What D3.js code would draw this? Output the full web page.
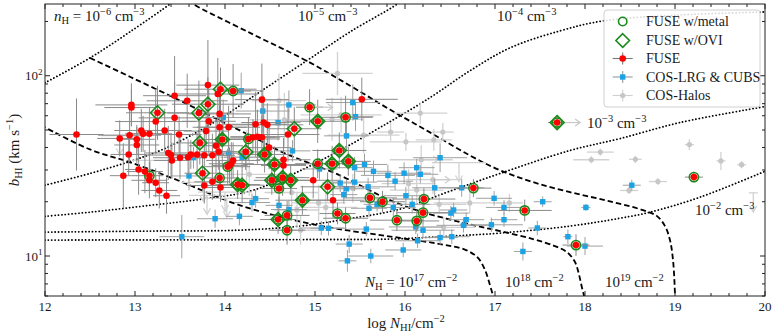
<!DOCTYPE html>
<html><head><meta charset="utf-8">
<script src="https://cdn.jsdelivr.net/npm/d3@7"></script>
<style>body{margin:0;background:#fff}svg{display:block}text{font-family:"Liberation Serif","DejaVu Serif",serif;white-space:pre}</style>
</head><body><svg id="c" width="777" height="336"></svg>
<script>
// ---------------- data ----------------
const fuseLogN = [12.35,12.83,12.93,12.87,12.94,12.96,12.96,13.02,13.02,13.04,
13.07,13.09,13.11,13.16,13.16,13.16,13.23,13.23,13.25,13.27,
13.33,13.35,13.37,13.40,13.41,13.44,13.44,13.49,13.50,13.58,
13.59,13.62,13.69,13.71,13.72,13.75,13.77,13.77,13.79,13.81,
13.81,13.82,13.86,13.86,13.90,13.93,13.92,13.94,13.94,13.94,
13.95,13.95,13.97,14.03,14.04,14.05,14.07,14.09,14.09,14.14,
14.23,14.26,14.31,14.36,14.41,14.34,14.41,14.43,14.47,14.44,
14.49,14.55,14.65,14.65,14.52,14.64,14.73,14.70,14.77,14.60,
14.19,14.86,14.59,14.69,14.69,14.94,14.98,15.03,15.03,15.14,
15.19,15.20,15.25,15.27,15.34,15.34,15.37,15.52,15.61,15.75,
15.91,16.13,16.20,16.21,16.76,17.33,17.69,17.90,19.21];
const fuseB = [47.2,44.9,36.6,27.9,46.8,68.9,66.6,44.4,41.3,30.2,
49.7,47.6,29.4,47.6,27.9,26.3,55.7,25.5,62.3,23.1,
49.7,21.6,37.3,36.3,33.9,58.4,77.5,47.2,35.1,72.6,
35.3,36.6,36.6,62.1,42.4,28.8,36.2,24.6,49.3,88.7,
69.5,55.9,25.8,36.2,40.9,37.9,79.2,51.8,27.1,61.4,
24.0,84.2,44.3,31.3,51.8,31.8,32.5,33.9,82.3,24.9,
37.8,44.6,45.6,45.9,45.6,53.8,73.7,55.0,53.4,36.6,
39.9,32.2,34.2,31.8,26.3,27.2,26.3,47.2,50.8,23.7,
24.7,20.4,15.95,16.8,13.9,66.9,26.3,32.5,55.9,24.2,
32.5,20.4,17.2,38.5,16.2,58.8,33.5,74.0,21.0,20.0,
15.8,15.65,17.4,20.7,23.8,17.9,55.0,11.5,27.4];
// 1 = with metal, 2 = with OVI, 3 = both
const fuseFlag = [0,0,0,0,0,0,0,0,0,0,
0,0,0,0,1,0,0,0,2,0,
0,0,0,0,0,0,0,0,0,0,
0,0,0,2,2,2,0,0,0,0,
2,0,0,0,0,0,0,0,1,0,
0,2,3,1,0,0,0,0,1,3,
2,1,0,0,0,0,0,0,0,3,
0,3,0,0,3,3,3,0,2,1,
3,3,3,1,1,1,0,1,3,2,
3,0,1,3,1,1,3,0,1,1,
1,1,1,1,1,1,3,1,1];
const fuseNerr = [0.30,0.25,0.20,0.15,0.35,0.40,0.30,0.20,0.25,0.15,
0.30,0.20,0.20,0.25,0.15,0.20,0.45,0.15,0.35,0.20,
0.30,0.15,0.25,0.30,0.20,0.40,0.35,0.25,0.30,0.45,
0.20,0.25,0.30,0.35,0.25,0.20,0.30,0.20,0.25,0.35,
0.40,0.30,0.20,0.25,0.30,0.20,0.45,0.30,0.20,0.35,
0.15,0.40,0.30,0.25,0.35,0.20,0.25,0.30,0.20,0.25,
0.30,0.35,0.25,0.30,0.20,0.35,0.30,0.25,0.40,0.30,
0.25,0.35,0.30,0.25,0.20,0.30,0.25,0.35,0.30,0.20,
0.25,0.30,0.20,0.25,0.20,0.15,0.30,0.25,0.35,0.30,
0.25,0.35,0.20,0.30,0.25,0.30,0.25,0.40,0.30,0.25,
0.30,0.25,0.30,0.35,0.20,0.30,0.10,0.15,0.10];
const fuseBerr = [0.20,0.10,0.12,0.18,0.15,0.12,0.10,0.08,0.10,0.14,
0.12,0.10,0.12,0.15,0.08,0.10,0.18,0.08,0.15,0.10,
0.12,0.10,0.15,0.12,0.10,0.20,0.22,0.10,0.12,0.15,
0.10,0.08,0.12,0.18,0.12,0.10,0.15,0.10,0.12,0.25,
0.15,0.18,0.10,0.12,0.15,0.10,0.20,0.12,0.10,0.15,
0.08,0.12,0.15,0.10,0.12,0.10,0.12,0.10,0.15,0.08,
0.10,0.12,0.10,0.15,0.12,0.18,0.20,0.15,0.12,0.10,
0.12,0.10,0.12,0.10,0.08,0.10,0.08,0.15,0.12,0.08,
0.10,0.08,0.08,0.08,0.08,0.10,0.10,0.08,0.12,0.08,
0.10,0.10,0.06,0.10,0.06,0.12,0.08,0.12,0.06,0.06,
0.06,0.06,0.06,0.06,0.05,0.06,0.04,0.06,0.03];
const fuseLowerLimitIdx = [85,106];

const cosLogN = [13.52,13.60,13.65,13.89,13.98,14.04,14.16,14.18,14.19,14.30,
14.34,14.42,14.59,14.71,14.75,14.60,14.71,15.05,15.07,15.15,
15.28,15.32,15.35,15.35,15.36,15.38,15.42,15.44,15.44,15.45,
15.55,15.57,15.59,15.60,15.62,15.65,15.69,15.81,15.87,15.89,
15.98,15.99,16.01,16.08,16.12,16.13,16.14,16.17,16.20,16.33,
16.39,16.39,16.51,16.54,16.52,16.63,16.65,16.68,16.96,16.99,
17.10,17.10,17.31,17.47,17.53,17.81,18.00,18.01,18.52];
const cosB = [12.8,27.8,35.1,16.1,58.6,37.1,16.6,82.6,35.3,19.8,
20.8,63.7,55.0,68.9,38.3,19.1,18.1,30.4,14.3,14.25,
25.4,21.9,23.6,46.4,9.4,11.65,71.0,30.9,25.7,59.3,
32.2,14.1,24.2,18.4,10.0,29.5,19.35,28.0,18.6,26.0,
10.8,28.8,21.6,19.35,14.5,30.9,12.15,28.4,13.9,23.9,
12.65,35.1,17.3,18.0,12.8,23.9,14.8,15.9,14.9,20.9,
18.6,15.9,10.6,14.3,20.0,12.8,11.35,18.6,24.7];
const cosNerr = [0.25,0.20,0.15,0.20,0.30,0.20,0.15,0.25,0.20,0.20,
0.15,0.30,0.25,0.30,0.20,0.15,0.20,0.20,0.25,0.20,
0.20,0.15,0.20,0.25,0.10,0.15,0.30,0.20,0.25,0.20,
0.25,0.20,0.30,0.20,0.25,0.20,0.15,0.30,0.25,0.20,
0.20,0.30,0.25,0.20,0.30,0.20,0.25,0.20,0.35,0.25,
0.20,0.30,0.20,0.15,0.20,0.25,0.30,0.20,0.35,0.20,
0.20,0.15,0.10,0.10,0.10,0.05,0.20,0.05,0.10];
const cosBerr = [0.12,0.08,0.06,0.05,0.10,0.08,0.05,0.10,0.06,0.05,
0.05,0.12,0.10,0.08,0.06,0.05,0.05,0.06,0.04,0.04,
0.05,0.05,0.05,0.08,0.06,0.05,0.10,0.06,0.05,0.08,
0.06,0.04,0.05,0.05,0.04,0.06,0.04,0.06,0.05,0.05,
0.04,0.06,0.05,0.05,0.04,0.05,0.04,0.05,0.04,0.05,
0.04,0.08,0.04,0.04,0.04,0.05,0.04,0.04,0.04,0.04,
0.04,0.04,0.05,0.04,0.03,0.04,0.05,0.02,0.03];

const halosLogN = [15.25,16.17,16.42,16.32,16.01,15.84,15.54,15.19,14.60,18.17,
18.07,18.56,19.16,19.51,19.74,18.81,18.49,17.16,16.72,16.38,
16.43,16.31,16.18,16.13,15.29,14.66,14.27,15.04,15.12,14.80,
14.24,16.04,14.74,15.42,14.84];
const halosB = [103,62.1,48.7,44.1,43.0,48.7,46.8,57.3,72.8,37.7,
34.2,34.4,41.5,33.7,32.1,25.9,23.1,19.7,19.7,19.35,
14.4,26.5,34.2,23.2,60.6,56.9,28.4,19.7,18.6,18.0,
35.3,25.2,22.5,23.7,13.9];
const halosNerr = [0.39,0.30,0.12,0.20,0.40,0.15,0.40,0.35,0.30,0.15,
0.20,0.07,0.05,0.05,0.05,0.10,0.10,0.15,0.40,0.30,
0.35,0.30,0.35,0.30,0.45,0.40,0.35,0.30,0.35,0.25,
0.30,0.30,0.30,0.30,0.25];
const halosBerr = [0.12,0.06,0.05,0.06,0.05,0.05,0.10,0.12,0.15,0.02,
0.02,0.02,0.03,0.05,0.02,0.02,0.02,0.05,0.06,0.05,
0.06,0.08,0.08,0.08,0.10,0.15,0.12,0.10,0.08,0.10,
0.15,0.08,0.10,0.08,0.08];
const halosLowerLimitIdx = [21,22];
// COS-Halos upper limits on b
const halosUlLogN = [19.87,13.76,14.00,13.80,14.02,13.17,16.60,12.83];
const halosUlB = [22.4,25.6,22.6,21.7,20.9,33.9,33.0,46.6];
const halosUlNerr = [0.05,0.25,0.30,0.20,0.25,0.20,0.30,0.20];

// model curves [log N_HI, b]
const nH_m6 = [[12.0,91.4],[12.5,125.6],[12.944,175.1],[13.389,250],[13.44,262]];
const nH_m5 = [[12,24.7],[12.5,28.7],[12.978,33.9],[13.333,39.5],[13.722,49.7],[14.0,60.1],[14.278,74.7],[14.907,121],[15.389,175],[15.911,250],[15.95,262]];
const nH_m4 = [[12,16.6],[12.5,17.5],[13.167,19.1],[13.722,20.6],[14.278,22.9],[14.722,28.0],[15.233,37.5],[15.722,51.6],[16.278,75.6],[16.722,106.6],[17.167,142.8],[17.722,177.3],[18.2,201.4],[19.056,217.4],[20,225.8]];
const nH_m3 = [[12,13.57],[13.167,13.75],[14.167,13.92],[14.833,14.65],[15.278,15.81],[15.944,18.2],[16.5,22.9],[17.056,28.7],[17.833,38.5],[18.389,44.8],[19.056,55.0],[20,67.4]];
const nH_m2 = [[12,12.26],[14.833,12.34],[15.833,12.42],[16.5,12.9],[17.056,13.4],[17.833,14.65],[18.389,16.2],[18.722,17.5],[19.278,21.2],[20,29.5]];
const NH_17 = [[11.95,53],[12,51.6],[12.5,39.0],[12.978,32.7],[13.5,26.0],[14.167,19.1],[15.022,14.84],[15.944,12.6],[16.389,11.65],[16.678,10.79],[16.811,9.75],[16.889,8.37],[16.944,6.9],[16.978,6.0],[16.99,5.5]];
const NH_18 = [[12.5,125.6],[12.944,98.7],[13.5,72.8],[13.944,56.4],[14.389,43.7],[14.644,37.5],[15.278,28.0],[15.833,20.4],[16.2,17.5],[16.756,14.84],[17.056,13.75],[17.422,12.42],[17.667,11.35],[17.8,10.5],[17.889,9.26],[17.933,7.9],[17.967,6.65],[17.989,6.0],[17.995,5.5]];
const NH_19 = [[13.589,262],[13.644,250],[14.278,172.8],[14.907,121],[15.389,88.1],[15.833,64.9],[16.278,48.5],[16.722,36.1],[17.056,29.9],[17.422,25.7],[17.833,22.6],[18.278,20.1],[18.644,17.96],[18.8,16.64],[18.889,14.65],[18.944,12.26],[18.978,9.5],[19.0,6.0],[19.0,5.5]];

const xTicks = [12,13,14,15,16,17,18,19,20];
const yMajor = [10,100];
const yMinor = [6,7,8,9,20,30,40,50,60,70,80,90,200];
const legendLabels = ["FUSE w/metal","FUSE w/OVI","FUSE","COS-LRG & CUBS","COS-Halos"];

// ---------------- drawing ----------------
const svg = d3.select('#c');
const L=45,R=765,T=4,B=296;
const x = d3.scaleLinear().domain([12,20]).range([L,R]);
const y = d3.scaleLog().domain([6,250]).range([B,T]);
svg.append('defs').append('clipPath').attr('id','clip').append('rect').attr('x',L).attr('y',T).attr('width',R-L).attr('height',B-T);
const plot = svg.append('g').attr('clip-path','url(#clip)');

function mtext(g,x0,y0,size,parts,opts){
  opts=opts||{};
  const t=g.append('text').attr('x',x0).attr('y',y0).attr('font-size',size).attr('fill','#1a1a1a');
  if(opts.anchor) t.attr('text-anchor',opts.anchor);
  if(opts.transform) t.attr('transform',opts.transform);
  let cur=0;
  parts.forEach(([s,k])=>{
    let sh=0,fs=size;
    if(k==='sup'){sh=-0.42*size;fs=0.7*size;}
    else if(k==='sub'){sh=0.2*size;fs=0.7*size;}
    const ts=t.append('tspan').attr('font-size',fs).attr('dy',(sh-cur).toFixed(2)).text(s);
    if(k==='it') ts.attr('font-style','italic');
    cur=sh;
  });
  return t;
}

// curves
const line = d3.line().x(d=>x(d[0])).y(d=>y(d[1])).curve(d3.curveCatmullRom.alpha(0.5));
[nH_m6,nH_m5,nH_m4,nH_m3,nH_m2].forEach(c=>plot.append('path').attr('d',line(c)).attr('fill','none')
  .attr('stroke','#000').attr('stroke-width',1.8).attr('stroke-linecap','round').attr('stroke-dasharray','0.1,3.3'));
[NH_17,NH_18,NH_19].forEach(c=>plot.append('path').attr('d',line(c)).attr('fill','none')
  .attr('stroke','#000').attr('stroke-width',1.8).attr('stroke-dasharray','5.5,3'));

function errbars(g,N,Bv,ne,be,color,w){
  N.forEach((n,i)=>{
    const cx=x(n),cy=y(Bv[i]);
    g.append('line').attr('x1',x(n-ne[i])).attr('x2',x(n+ne[i])).attr('y1',cy).attr('y2',cy).attr('stroke',color).attr('stroke-width',w);
    g.append('line').attr('x1',cx).attr('x2',cx).attr('y1',y(Bv[i]*Math.pow(10,-be[i]))).attr('y2',y(Bv[i]*Math.pow(10,be[i]))).attr('stroke',color).attr('stroke-width',w);
  });
}
function rightArrow(g,px,py,color){
  g.append('line').attr('x1',px).attr('x2',px+17).attr('y1',py).attr('y2',py).attr('stroke',color).attr('stroke-width',1.2);
  g.append('path').attr('d',`M${px+12},${py-3.5}L${px+17},${py}L${px+12},${py+3.5}`).attr('fill','none').attr('stroke',color).attr('stroke-width',1.2);
}

// COS-Halos
const gH = plot.append('g');
errbars(gH,halosLogN,halosB,halosNerr,halosBerr,'#d2d2d2',1.3);
halosUlLogN.forEach((n,i)=>{
  const cx=x(n),cy=y(halosUlB[i]);
  gH.append('line').attr('x1',x(n-halosUlNerr[i])).attr('x2',x(n+halosUlNerr[i])).attr('y1',cy).attr('y2',cy).attr('stroke','#d2d2d2').attr('stroke-width',1.3);
  gH.append('line').attr('x1',cx).attr('x2',cx).attr('y1',cy).attr('y2',cy+19).attr('stroke','#d2d2d2').attr('stroke-width',1.3);
  gH.append('path').attr('d',`M${cx-3.5},${cy+13}L${cx},${cy+19}L${cx+3.5},${cy+13}`).attr('fill','none').attr('stroke','#d2d2d2').attr('stroke-width',1.3);
});
halosLowerLimitIdx.forEach(i=>rightArrow(gH,x(halosLogN[i]),y(halosB[i]),'#cccccc'));
gH.selectAll('circle.h').data(halosLogN).join('circle').attr('cx',d=>x(d)).attr('cy',(d,i)=>y(halosB[i])).attr('r',2.6).attr('fill','#c6c6c6');

// COS-LRG & CUBS
const gC = plot.append('g');
errbars(gC,cosLogN,cosB,cosNerr,cosBerr,'#a0a0a0',1);
gC.selectAll('rect').data(cosLogN).join('rect').attr('x',d=>x(d)-2.7).attr('y',(d,i)=>y(cosB[i])-2.7).attr('width',5.4).attr('height',5.4).attr('fill','#1ba3e6');

// FUSE
const gF = plot.append('g');
errbars(gF,fuseLogN,fuseB,fuseNerr,fuseBerr,'#8a8a8a',1);
fuseLowerLimitIdx.forEach(i=>rightArrow(gF,x(fuseLogN[i])+6,y(fuseB[i]),'#c8c8c8'));
const green='#1a8a1a';
fuseLogN.forEach((n,i)=>{
  const cx=x(n),cy=y(fuseB[i]),f=fuseFlag[i];
  if(f===2||f===3) gF.append('path').attr('d',`M${cx},${cy-7}L${cx+7},${cy}L${cx},${cy+7}L${cx-7},${cy}Z`).attr('fill','none').attr('stroke',green).attr('stroke-width',1.6);
  if(f===1||f===3) gF.append('circle').attr('cx',cx).attr('cy',cy).attr('r',4.6).attr('fill','none').attr('stroke',green).attr('stroke-width',1.6);
});
gF.selectAll('circle.r').data(fuseLogN).join('circle').attr('class','r').attr('cx',d=>x(d)).attr('cy',(d,i)=>y(fuseB[i])).attr('r',3.3).attr('fill','#ff0000');

// frame and ticks
const ax = svg.append('g').attr('stroke','#222').attr('stroke-width',1);
ax.append('rect').attr('x',L).attr('y',T).attr('width',R-L).attr('height',B-T).attr('fill','none');
for(let v=12; v<=20.001; v+=0.2){
  const isMaj = Math.abs(v-Math.round(v))<1e-6;
  const len = isMaj?5:3, px=x(v);
  ax.append('line').attr('x1',px).attr('x2',px).attr('y1',B).attr('y2',B-len);
  ax.append('line').attr('x1',px).attr('x2',px).attr('y1',T).attr('y2',T+len);
}
yMajor.concat(yMinor).forEach(v=>{
  const len = yMajor.includes(v)?5:3, py=y(v);
  ax.append('line').attr('x1',L).attr('x2',L+len).attr('y1',py).attr('y2',py);
  ax.append('line').attr('x1',R).attr('x2',R-len).attr('y1',py).attr('y2',py);
});
xTicks.forEach(v=>svg.append('text').attr('x',x(v)).attr('y',311).attr('text-anchor','middle').attr('font-size',13).attr('fill','#1a1a1a').text(v));
yMajor.forEach(v=>mtext(svg,L-20,y(v)+4.5,13,[['10',''],[String(Math.round(Math.log10(v))),'sup']],{anchor:'start'}));

// axis labels
mtext(svg,406,328,15,[['log ',''],['N','it'],['HI','sub'],['/cm',''],['−2','sup']],{anchor:'middle'});
mtext(svg,-150,19,15,[['b','it'],['HI','sub'],[' (km s',''],['−1','sup'],[')','']],{anchor:'middle',transform:'rotate(-90)'});

// annotations
const fs=15;
mtext(svg,54,21,fs,[['n','it'],['H','sub'],[' = 10',''],['−6','sup'],[' cm',''],['−3','sup']]);
mtext(svg,298,21,fs,[['10',''],['−5','sup'],[' cm',''],['−3','sup']]);
mtext(svg,497,21,fs,[['10',''],['−4','sup'],[' cm',''],['−3','sup']]);
mtext(svg,587,128,fs,[['10',''],['−3','sup'],[' cm',''],['−3','sup']]);
mtext(svg,695,215,fs,[['10',''],['−2','sup'],[' cm',''],['−3','sup']]);
mtext(svg,365,287,fs,[['N','it'],['H','sub'],[' = 10',''],['17','sup'],[' cm',''],['−2','sup']]);
mtext(svg,505,287,fs,[['10',''],['18','sup'],[' cm',''],['−2','sup']]);
mtext(svg,605,287,fs,[['10',''],['19','sup'],[' cm',''],['−2','sup']]);

// legend
const lg = svg.append('g');
lg.append('rect').attr('x',604).attr('y',10).attr('width',156).attr('height',97).attr('rx',3)
  .attr('fill','#fff').attr('fill-opacity',0.85).attr('stroke','#d0d0d0').attr('stroke-width',1);
const rows=[21.5,40.5,58.5,77,95.5], mx=622.7;
lg.append('circle').attr('cx',mx).attr('cy',rows[0]).attr('r',4.2).attr('fill','none').attr('stroke',green).attr('stroke-width',1.6);
lg.append('path').attr('d',`M${mx},${rows[1]-6.8}L${mx+6.8},${rows[1]}L${mx},${rows[1]+6.8}L${mx-6.8},${rows[1]}Z`).attr('fill','none').attr('stroke',green).attr('stroke-width',1.6);
[[rows[2],'#7a7a7a'],[rows[3],'#9a9a9a'],[rows[4],'#d0d0d0']].forEach(([ry,c])=>{
  lg.append('line').attr('x1',mx-10).attr('x2',mx+10).attr('y1',ry).attr('y2',ry).attr('stroke',c).attr('stroke-width',1.1);
  lg.append('line').attr('x1',mx).attr('x2',mx).attr('y1',ry-6).attr('y2',ry+6).attr('stroke',c).attr('stroke-width',1.1);
});
lg.append('circle').attr('cx',mx).attr('cy',rows[2]).attr('r',3.3).attr('fill','#ff0000');
lg.append('rect').attr('x',mx-2.7).attr('y',rows[3]-2.7).attr('width',5.4).attr('height',5.4).attr('fill','#1ba3e6');
lg.append('circle').attr('cx',mx).attr('cy',rows[4]).attr('r',2.6).attr('fill','#c6c6c6');
legendLabels.forEach((t,i)=>lg.append('text').attr('x',646).attr('y',rows[i]+4.5).attr('font-size',14).attr('fill','#1a1a1a').text(t));
</script></body></html>
